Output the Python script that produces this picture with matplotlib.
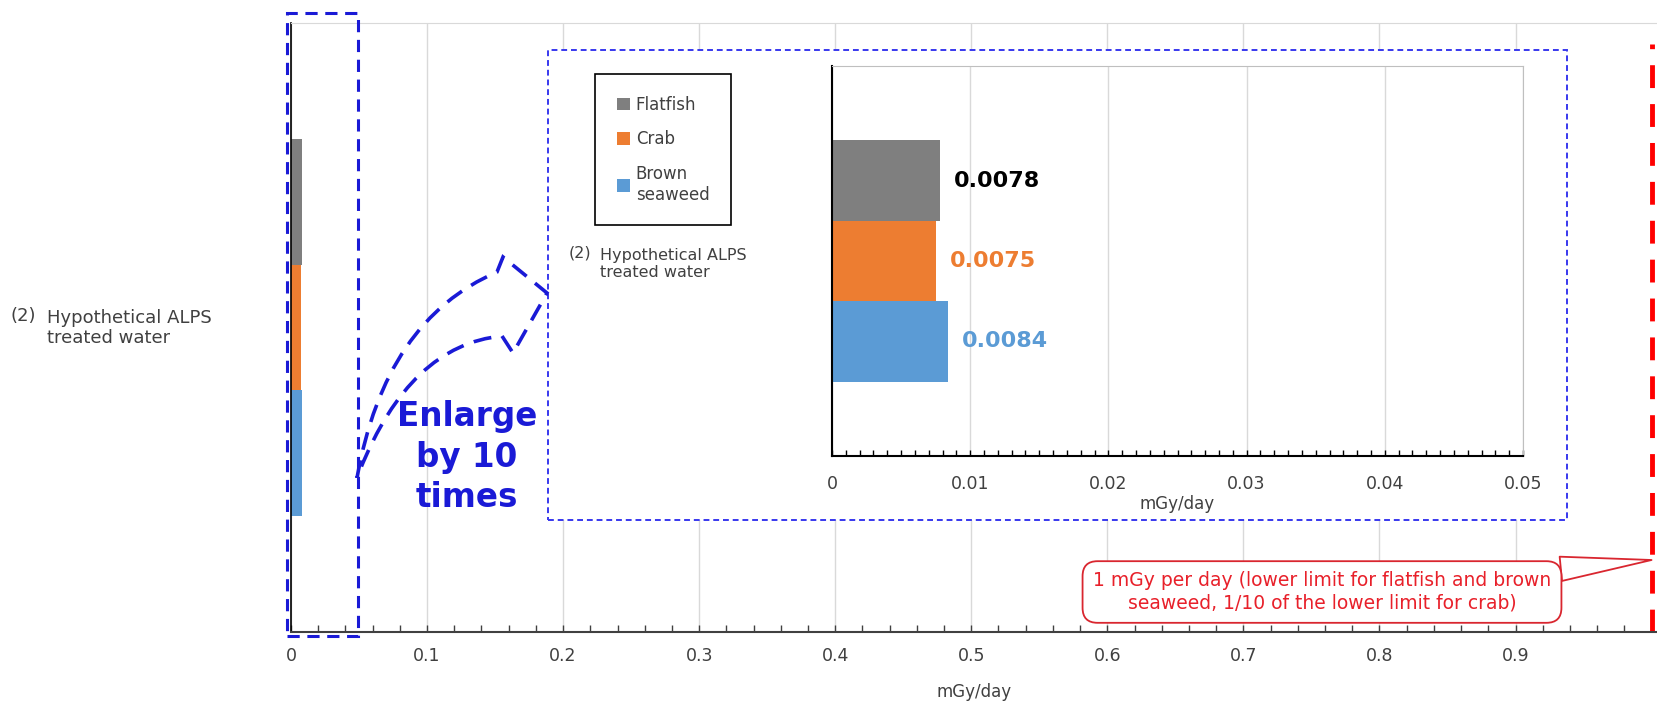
import matplotlib
matplotlib.use("Agg")
import matplotlib.pyplot as plt
import matplotlib.transforms as mtransforms
from matplotlib.patches import Rectangle, PathPatch
from matplotlib.path import Path
from matplotlib.ticker import MultipleLocator, FuncFormatter

plt.rcParams['font.family'] = ['DejaVu Sans']

# データ
category_no = "(2)"
category = "Hypothetical ALPS\ntreated water"
species = ["Flatfish", "Crab", "Brown\nseaweed"]
dose = [0.0078, 0.0075, 0.0084]  # mGy/day
bar_colors = ["#7f7f7f", "#ed7d31", "#5b9bd5"]
label_colors = ["#000000", "#ed7d31", "#5b9bd5"]
limit = 1.0
zoom_max = 0.05
main_ticks = [0, 0.1, 0.2, 0.3, 0.4, 0.5, 0.6, 0.7, 0.8, 0.9]
inset_ticks = [0, 0.01, 0.02, 0.03, 0.04, 0.05]
limit_text = ("1 mGy per day (lower limit for flatfish and brown\n"
              "seaweed, 1/10 of the lower limit for crab)")

W, H = 1657, 705
TXT = "#404040"
BLUE = "#1a1ad6"
RED = "#e8202a"


def fx(px):
    return px / W


def fy(py):
    return 1 - py / H


def fmt(v, pos):
    return "0" if v == 0 else f"{v:g}"


fig = plt.figure(figsize=(W / 100, H / 100), dpi=100)

bar_h = 0.206
offsets = [bar_h, 0, -bar_h]

# メイングラフ
ax = fig.add_axes([fx(291), fy(632), fx(W - 291), (632 - 23) / H])
for i in range(len(species)):
    ax.barh(offsets[i], dose[i], height=bar_h, color=bar_colors[i], zorder=2)
ax.set_xlim(0, 1.004)
ax.set_ylim(-0.5, 0.5)
ax.set_yticks([])
ax.set_xticks(main_ticks)
ax.xaxis.set_minor_locator(MultipleLocator(0.02))
ax.xaxis.set_major_formatter(FuncFormatter(fmt))
ax.grid(axis="x", color="#d9d9d9", lw=1)
ax.set_axisbelow(True)
ax.spines["top"].set_color("#d9d9d9")
ax.spines["right"].set_visible(False)
ax.spines["left"].set_color("black")
ax.spines["left"].set_linewidth(1.2)
ax.spines["bottom"].set_color(TXT)
ax.spines["bottom"].set_linewidth(1.5)
ax.tick_params(axis="x", which="both", direction="in", length=5, width=1,
               colors=TXT, labelsize=12.5, pad=11)
ax.set_xlabel("mGy/day", fontsize=12, color=TXT, labelpad=13)

# 1 mGy の線
ax.axvline(limit, ymin=0, ymax=0.965, color="#ff0000", lw=3.5, dashes=(4.7, 3.3))

ax.annotate(limit_text, xy=(limit, (632 - 560) / 609),
            xycoords=("data", "axes fraction"),
            xytext=(fx(1322), fy(592)), textcoords="figure fraction",
            ha="center", va="center", fontsize=13.5, color=RED,
            linespacing=1.2,
            bbox=dict(boxstyle="round,pad=0.55,rounding_size=0.8", fc="white",
                      ec="#d9262f", lw=1.3),
            arrowprops=dict(arrowstyle="wedge,tail_width=1.3,shrink_factor=0.5",
                            fc="white", ec="#d9262f", lw=1.3,
                            shrinkA=0, shrinkB=0))

# 拡大範囲の枠
trans = mtransforms.blended_transform_factory(ax.transData, ax.transAxes)
ax.add_patch(Rectangle((-0.003, -0.007), zoom_max + 0.002, 1.023, transform=trans,
                       fill=False, ec=BLUE, lw=2.2, ls=(0, (4, 2.5)),
                       clip_on=False, zorder=5))

fig.text(fx(10), fy(316), category_no, fontsize=13, color=TXT, va="center")
fig.text(fx(47), fy(328), category, fontsize=13, color=TXT, va="center",
         linespacing=1.1)

# 拡大図の枠
fig.add_artist(Rectangle((fx(548), fy(520)), fx(1567 - 548), (520 - 50) / H,
                         transform=fig.transFigure, fc="white", ec="#3838ee",
                         lw=1.4, ls=(0, (3, 2)), zorder=1.5))

# 矢印
verts = [(357, 478), (385, 320), (497, 272), (503, 257), (547, 293),
         (513, 353), (502, 336), (410, 345), (360, 470), (357, 478)]
codes = [Path.MOVETO, Path.CURVE3, Path.CURVE3, Path.LINETO, Path.LINETO,
         Path.LINETO, Path.LINETO, Path.CURVE3, Path.CURVE3, Path.CLOSEPOLY]
arrow = Path([(fx(x), fy(y)) for x, y in verts], codes)
fig.add_artist(PathPatch(arrow, transform=fig.transFigure, fill=False, ec=BLUE,
                         lw=2.6, ls=(0, (5, 3)), zorder=2.5))
fig.text(fx(467), fy(457), "Enlarge\nby 10\ntimes", ha="center", va="center",
         fontsize=23.5, fontweight="bold", color=BLUE, linespacing=1.3)

# 拡大図
ax_in = fig.add_axes([fx(832), fy(456), fx(1523 - 832), (456 - 66) / H], zorder=2)
for i in range(len(species)):
    c = ax_in.barh(offsets[i], dose[i], height=bar_h, color=bar_colors[i],
                   label=species[i], zorder=2)
    ax_in.bar_label(c, labels=[f"{dose[i]:.4f}"], padding=10, color=label_colors[i],
                    fontsize=16, fontweight="bold")
ax_in.set_xlim(0, zoom_max)
ax_in.set_ylim(-0.5, 0.5)
ax_in.set_yticks([])
ax_in.set_xticks(inset_ticks)
ax_in.xaxis.set_minor_locator(MultipleLocator(0.001))
ax_in.xaxis.set_major_formatter(FuncFormatter(fmt))
ax_in.grid(axis="x", color="#d9d9d9", lw=1)
ax_in.set_axisbelow(True)
for s in ["top", "right"]:
    ax_in.spines[s].set_color("#bfbfbf")
for s in ["left", "bottom"]:
    ax_in.spines[s].set_color("black")
    ax_in.spines[s].set_linewidth(1.5)
ax_in.tick_params(axis="x", which="both", direction="in", length=4, width=1,
                  colors="black", labelcolor=TXT, labelsize=12.5, pad=14)
ax_in.set_xlabel("mGy/day", fontsize=12, color=TXT, labelpad=1)

leg = ax_in.legend(loc="upper left", bbox_to_anchor=(fx(595), fy(74)),
                   bbox_transform=fig.transFigure, frameon=True, fancybox=False,
                   edgecolor="black", framealpha=1, fontsize=12,
                   handlelength=0.8, handleheight=0.8, handletextpad=0.35,
                   labelspacing=1.0, borderpad=1.3, borderaxespad=0,
                   labelcolor=TXT)
leg.get_frame().set_linewidth(1.2)

fig.text(fx(569), fy(253), category_no, fontsize=11.5, color=TXT, va="center")
fig.text(fx(600), fy(264), category, fontsize=11.5, color=TXT, va="center",
         linespacing=1.15)

plt.savefig("out.png", dpi=100)
